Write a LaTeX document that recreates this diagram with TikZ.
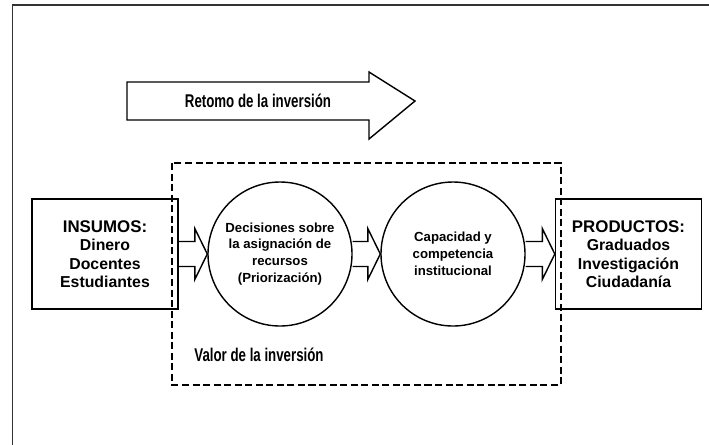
\documentclass[tikz,border=0pt]{standalone}
\usepackage{fontspec}
\setmainfont{Liberation Sans}
\newfontfamily\narrowsans[FakeStretch=0.72]{Liberation Sans}
\usetikzlibrary{calc}

\tikzset{
  caja/.style={draw,thick,minimum width=2.92cm,minimum height=2.2cm,inner sep=0pt,align=center,font=\fontsize{9}{10.5}\selectfont\bfseries},
  etapa/.style={draw,thick,circle,minimum size=2.88cm,inner sep=0pt,align=center,font=\fontsize{7.5}{9.6}\selectfont\bfseries},
  titulo/.style={font=\narrowsans\fontsize{10.5}{12}\selectfont\bfseries},
  flecha/.style={thick,line join=miter}
}

% block arrow from the east side of #1 to the west side of #2
\newcommand{\bloque}[2]{%
\draw [flecha] ($(#1.east)+(0,0.25)$) -- ($(#2.west)+(-0.25,0.25)$) -- ($(#2.west)+(-0.25,0.51)$) -- (#2.west)
  -- ($(#2.west)+(-0.25,-0.51)$) -- ($(#2.west)+(-0.25,-0.25)$) -- ($(#1.east)+(0,-0.25)$);}

\begin{document}
\begin{tikzpicture}
\useasboundingbox (0,0) rectangle (14.18,-8.88);

%frame
\draw [line width=1.1pt,black!80] (14.4,-0.1) -- (0.25,-0.1) -- (0.25,-9.1);

%retorno
\draw [flecha] (2.54,-1.64) -- (7.38,-1.64) -- (7.38,-1.44) -- (8.30,-2.02) -- (7.38,-2.78) -- (7.38,-2.40) -- (2.54,-2.40) -- cycle;
\node[titulo] (retorno) at (5.16,-2.02) {Retomo de la inversión};

%valor
\draw [line width=1.2pt,dash pattern=on 4pt off 2pt] (3.44,-3.26) rectangle (11.22,-7.70);
\node[titulo] (valor) at (5.18,-7.10) {Valor de la inversión};

\node[caja] (insumos) at (2.10,-5.08) {{\fontsize{9.6}{10.5}\selectfont INSUMOS:}\\Dinero\\Docentes\\Estudiantes};
\node[etapa] (decisiones) at (5.60,-5.08) {Decisiones sobre\\la asignación de\\recursos\\(Priorización)};
\node[etapa] (capacidad) at (9.06,-5.08) {Capacidad y\\competencia\\institucional};
\node[caja] (productos) at (12.57,-5.08) {{\fontsize{9.6}{10.5}\selectfont PRODUCTOS:}\\Graduados\\Investigación\\Ciudadanía};

\bloque{insumos}{decisiones}
\bloque{decisiones}{capacidad}
\bloque{capacidad}{productos}

\end{tikzpicture}
\end{document}
